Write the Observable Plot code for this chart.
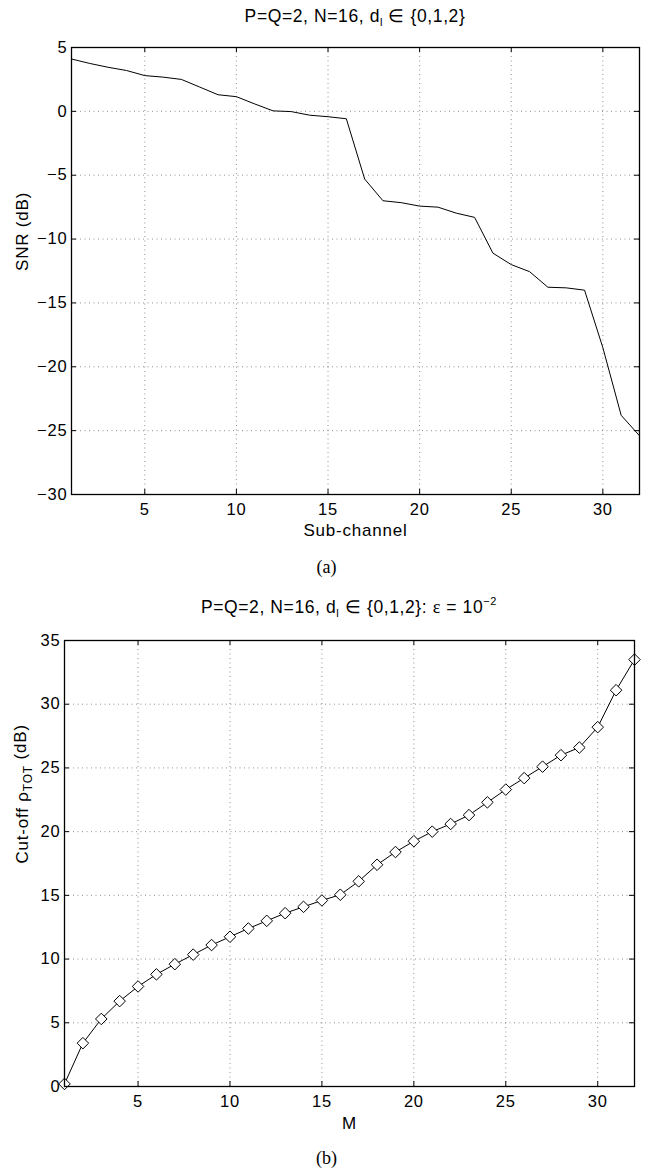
<!DOCTYPE html>
<html><head><meta charset="utf-8">
<script src="https://cdn.jsdelivr.net/npm/d3@7"></script>
<script src="https://cdn.jsdelivr.net/npm/@observablehq/plot@0.6"></script>
<style>
body{margin:0;background:#fff;font-family:"Liberation Sans",Arial,Helvetica,sans-serif;color:#000}
#page{width:653px;height:1170px;overflow:hidden;background:#fff}
.title{font-size:17.5px;letter-spacing:0.6px;text-align:center;white-space:nowrap;box-sizing:border-box}
.title sub{font-size:11px;vertical-align:-4px;line-height:0}
.title sup{font-size:11px;vertical-align:8px;line-height:0}
.serif{font-family:"Liberation Serif","Times New Roman",serif;font-size:18px}
.cap{font-family:"Liberation Serif","Times New Roman",serif;font-size:18px;text-align:center;box-sizing:border-box}
svg{display:block}
</style></head><body><div id="page"></div>
<script>
// ---- data ----
const subChannel = [1,2,3,4,5,6,7,8,9,10,11,12,13,14,15,16,17,18,19,20,21,22,23,24,25,26,27,28,29,30,31,32];
const snrDb = [4.1,3.75,3.45,3.2,2.8,2.68,2.5,1.9,1.3,1.15,0.58,0.04,-0.02,-0.3,-0.42,-0.58,
               -5.3,-7.0,-7.15,-7.42,-7.5,-7.97,-8.3,-11.1,-12.0,-12.55,-13.77,-13.82,-14.0,-18.5,-23.8,-25.4];
const mValues = [1,2,3,4,5,6,7,8,9,10,11,12,13,14,15,16,17,18,19,20,21,22,23,24,25,26,27,28,29,30,31,32];
const cutoffDb = [0.2,3.4,5.3,6.7,7.85,8.8,9.6,10.35,11.1,11.75,12.4,13.0,13.6,14.1,14.6,15.05,
                  16.1,17.4,18.4,19.25,20.0,20.6,21.3,22.3,23.3,24.2,25.1,26.0,26.6,28.2,31.1,33.5];
const xTickValues = [5,10,15,20,25,30];
const yTicksA = [-30,-25,-20,-15,-10,-5,0,5];
const yTicksB = [0,5,10,15,20,25,30,35];
const xLabelA = "Sub-channel";
const yLabelA = "SNR (dB)";
const xLabelB = "M";
const yLabelB = "Cut-off ρTOT (dB)";

const W = 653;
const page = document.getElementById("page");

function addDiv(cls, html, style) {
  const d = document.createElement("div");
  d.className = cls; d.innerHTML = html; Object.assign(d.style, style);
  page.appendChild(d); return d;
}

function chart({xs, ys, yDomain, yTicks, xLabel, yLabel, height, mt, mb, ml, mr, markers, xlabDy, ylabDx}) {
  const pw = W - ml - mr, ph = height - mt - mb;
  const data = xs.map((x, i) => ({x, y: ys[i]}));
  const grid = {stroke: "#000", strokeOpacity: 0.55, strokeWidth: 0.8, strokeDasharray: "1,3.5"};
  const tk = {stroke: "#000", strokeWidth: 1};
  return Plot.plot({
    width: W, height,
    marginTop: mt, marginBottom: mb, marginLeft: ml, marginRight: mr,
    style: {fontFamily: '"Liberation Sans", Arial, Helvetica, sans-serif', fontSize: "16.5px", letterSpacing: "0.8px", background: "#fff", color: "#000"},
    x: {domain: [1, 32]},
    y: {domain: yDomain},
    marks: [
      Plot.ruleX(xTickValues, {x: d => d, ...grid}),
      Plot.ruleY(yTicks, {y: d => d, ...grid}),
      Plot.tickX(xTickValues, {x: d => d, insetTop: ph - 5, ...tk}),
      Plot.tickX(xTickValues, {x: d => d, insetBottom: ph - 5, ...tk}),
      Plot.tickY(yTicks, {y: d => d, insetRight: pw - 5, ...tk}),
      Plot.tickY(yTicks, {y: d => d, insetLeft: pw - 5, ...tk}),
      Plot.line(data, {x: "x", y: "y", stroke: "#000", strokeWidth: 1}),
      markers ? Plot.dot(data, {x: "x", y: "y", symbol: "diamond2", r: 5.2, fill: "#fff", stroke: "#000", strokeWidth: 1}) : null,
      Plot.frame({stroke: "#000", strokeWidth: 1.3}),
      Plot.axisX(xTickValues, {tickSize: 0, tickPadding: 9, fontSize: 16.5, label: null}),
      Plot.axisY(yTicks, {tickSize: 0, tickPadding: 4, fontSize: 16.5, label: null}),
      Plot.text([xLabel], {text: d => d, frameAnchor: "bottom", dy: xlabDy, lineAnchor: "middle", fontSize: 17}),
      Plot.text([yLabel], {text: d => d, frameAnchor: "left", dx: ylabDx, rotate: -90, lineAnchor: "middle", fontSize: 17})
    ]
  });
}

// ---- (a) ----
addDiv("title", "P=Q=2, N=16, d<sub>l</sub> ∈ {0,1,2}", {height: "30px", lineHeight: "26px", paddingTop: "3px", paddingLeft: "71px", paddingRight: "14px"});
const svgA = chart({xs: subChannel, ys: snrDb, yDomain: [-30, 5], yTicks: yTicksA, xLabel: xLabelA, yLabel: yLabelA,
  height: 515, mt: 17, mb: 51, ml: 71, mr: 14, markers: false, xlabDy: 36, ylabDx: -49});
page.appendChild(svgA);
addDiv("cap", "(a)", {height: "45px", lineHeight: "45px"});

// ---- (b) ----
addDiv("title", 'P=Q=2, N=16, d<sub>l</sub> ∈ {0,1,2}: <span class="serif">ε</span> = 10<sup>−2</sup>', {height: "35px", lineHeight: "35px", paddingLeft: "64px", paddingRight: "19px"});
const svgB = chart({xs: mValues, ys: cutoffDb, yDomain: [0, 35], yTicks: yTicksB, xLabel: xLabelB, yLabel: yLabelB,
  height: 515, mt: 15, mb: 54, ml: 64, mr: 19, markers: true, xlabDy: 37, ylabDx: -42});
page.appendChild(svgB);
addDiv("cap", "(b)", {height: "30px", lineHeight: "36px"});

// subscript for rho_TOT
d3.select(svgB).selectAll("text").filter(function () { return this.textContent === yLabelB; }).each(function () {
  const t = d3.select(this);
  t.text(null);
  t.append("tspan").text("Cut-off ρ");
  t.append("tspan").attr("dy", "0.35em").attr("font-size", "12px").text("TOT");
  t.append("tspan").attr("dy", "-0.35em").text(" (dB)");
});
</script>
</body></html>
